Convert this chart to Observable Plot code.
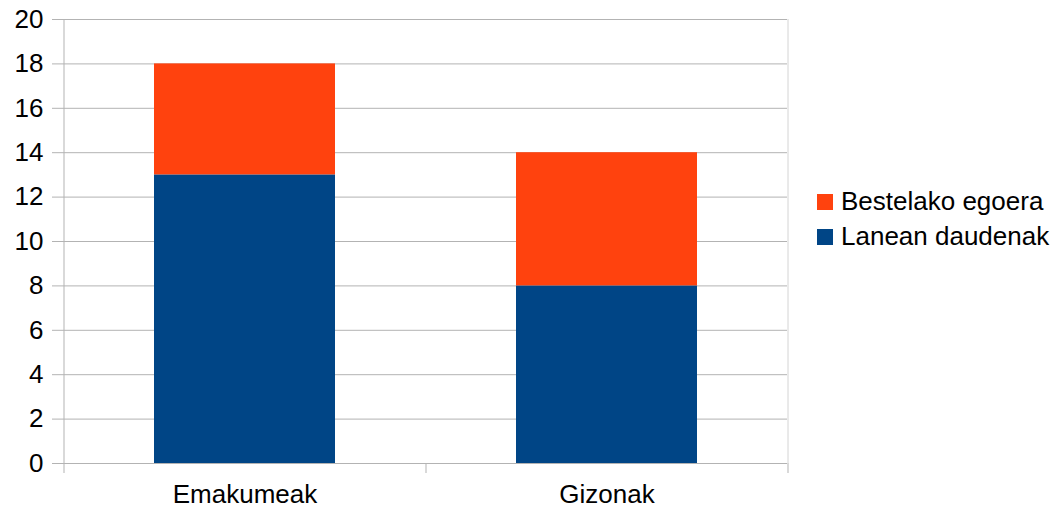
<!DOCTYPE html>
<html>
<head>
<meta charset="utf-8">
<script src="https://cdn.jsdelivr.net/npm/d3@7"></script>
<script src="https://cdn.jsdelivr.net/npm/@observablehq/plot@0.6"></script>
<style>
  html, body { margin: 0; padding: 0; background: #fff; }
  #wrap { position: relative; width: 1059px; height: 505px; font-family: "Liberation Sans", Arial, sans-serif; }
  #legend { position: absolute; left: 817px; top: 184px; font-size: 26px; color: #000; }
  .item { display: flex; align-items: center; height: 35px; }
  .sw { width: 16px; height: 16px; margin-right: 8px; }
</style>
</head>
<body>
<div id="wrap"></div>
<script>
const categories = ["Emakumeak", "Gizonak"];
const series = ["Lanean daudenak", "Bestelako egoera"];
const laneanValues = [13, 8];
const bestelakoValues = [5, 6];
const yTicks = [0, 2, 4, 6, 8, 10, 12, 14, 16, 18, 20];
const colors = ["#004586", "#ff420e"];
const legendOrder = ["Bestelako egoera", "Lanean daudenak"];

const data = categories.flatMap((c, i) => [
  {cat: c, series: series[0], value: laneanValues[i]},
  {cat: c, series: series[1], value: bestelakoValues[i]}
]);

const W = 1059, H = 505, mL = 63, mR = 272, mT = 19, mB = 42;
const step = (W - mL - mR) / categories.length;

const chart = Plot.plot({
  width: W, height: H,
  marginLeft: mL, marginRight: mR, marginTop: mT, marginBottom: mB,
  style: {fontFamily: '"Liberation Sans", Arial, sans-serif', fontSize: "26px", color: "#000", background: "#fff", overflow: "visible"},
  x: {domain: categories, paddingInner: 0.5, paddingOuter: 0.25, label: null},
  y: {domain: [0, 20], label: null},
  color: {domain: series, range: colors},
  marks: [
    Plot.gridY(yTicks, {stroke: "#b3b3b3", strokeOpacity: 1}),
    Plot.ruleX([categories[categories.length - 1]], {x: d => d, dx: step / 2, stroke: "#d4d4d4"}),
    Plot.barY(data, {x: "cat", y: "value", fill: "series", order: series}),
    Plot.axisY(yTicks, {tickSize: 11, tickPadding: 9, stroke: "#b3b3b3", strokeOpacity: 1, fill: "#000", label: null}),
    Plot.axisX({tickSize: 0, tickPadding: 21, fill: "#000", label: null}),
    Plot.ruleX([categories[0]], {x: d => d, dx: -step / 2, insetBottom: -10, stroke: "#b3b3b3"}),
    Plot.ruleX(categories.slice(1), {x: d => d, dx: -step / 2, y1: 0, y2: 0, insetBottom: -10, stroke: "#b3b3b3"}),
    Plot.ruleX([categories[categories.length - 1]], {x: d => d, dx: step / 2, y1: 0, y2: 0, insetBottom: -10, stroke: "#b3b3b3"})
  ]
});

const wrap = document.getElementById("wrap");
wrap.appendChild(chart);
const legend = document.createElement("div");
legend.id = "legend";
legendOrder.forEach(s => {
  const item = document.createElement("div");
  item.className = "item";
  const sw = document.createElement("div");
  sw.className = "sw";
  sw.style.background = colors[series.indexOf(s)];
  const t = document.createElement("span");
  t.textContent = s;
  item.appendChild(sw);
  item.appendChild(t);
  legend.appendChild(item);
});
wrap.appendChild(legend);
</script>
</body>
</html>
